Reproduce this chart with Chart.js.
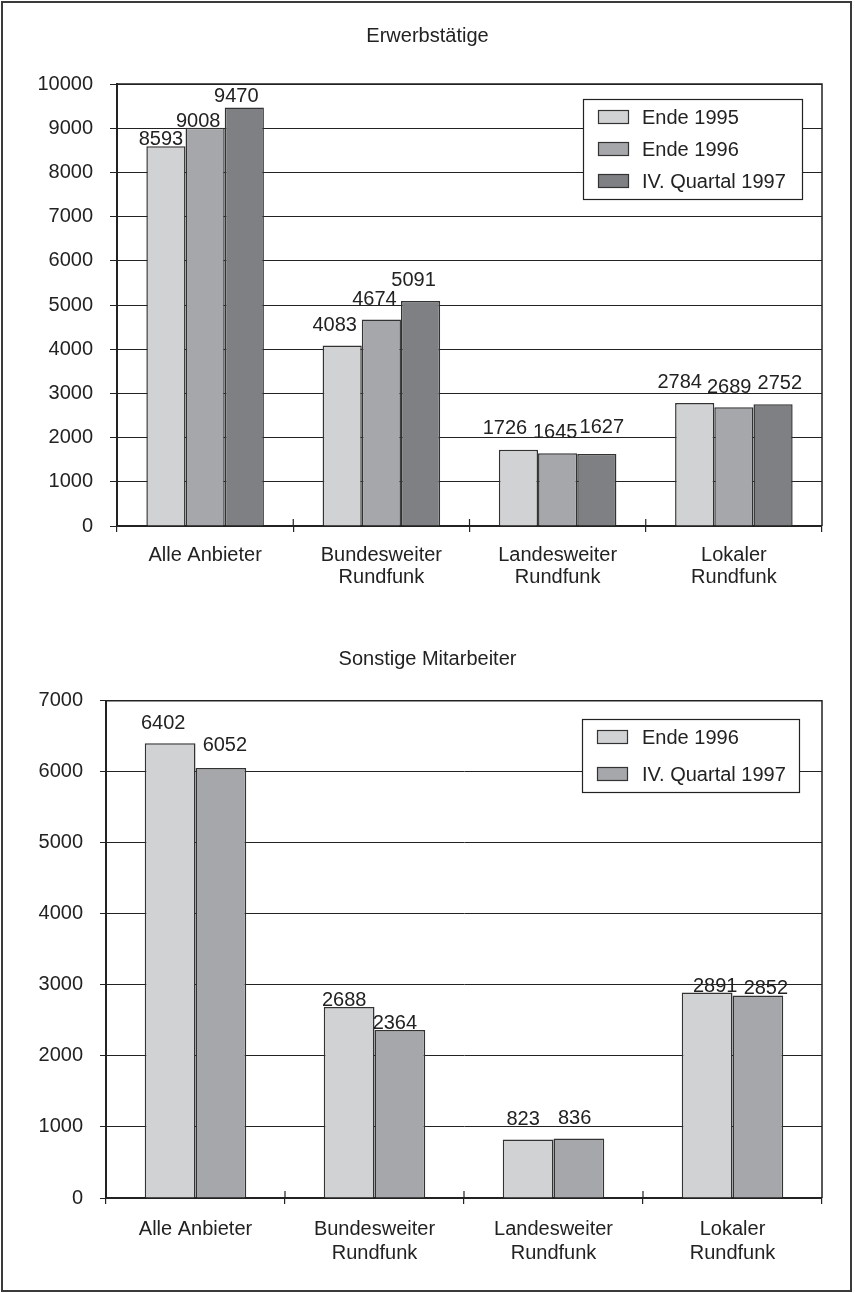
<!DOCTYPE html>
<html>
<head>
<meta charset="utf-8">
<script src="https://cdn.jsdelivr.net/npm/chart.js@4/dist/chart.umd.min.js"></script>
<style>
  html, body { margin: 0; padding: 0; background: #fff; }
  #page { position: relative; width: 855px; height: 1293px; overflow: hidden; background: #fff; }
  #frame { position: absolute; left: 1px; top: 1px; width: 851px; height: 1291px; box-sizing: border-box; border: 2px solid #3a3a3a; }
  canvas { position: absolute; left: 0; }
  #c1 { top: 0; }
  #c2 { top: 630px; }
</style>
</head>
<body>
<div id="page">
  <div id="frame"></div>
  <canvas id="c1" width="855" height="630"></canvas>
  <canvas id="c2" width="855" height="663"></canvas>
</div>
<script>
// Provider groups shown along the x axis of both panels
const categories = [['Alle Anbieter'], ['Bundesweiter', 'Rundfunk'], ['Landesweiter', 'Rundfunk'], ['Lokaler', 'Rundfunk']];

// Panel 1: Erwerbstätige
const erwerbTitle = 'Erwerbstätige';
const erwerbSeries = ['Ende 1995', 'Ende 1996', 'IV. Quartal 1997'];
const erwerb1995 = [8593, 4083, 1726, 2784];
const erwerb1996 = [9008, 4674, 1645, 2689];
const erwerb1997 = [9470, 5091, 1627, 2752];
const erwerbAxis = { min: 0, max: 10000, step: 1000 };

// Panel 2: Sonstige Mitarbeiter
const sonstTitle = 'Sonstige Mitarbeiter';
const sonstSeries = ['Ende 1996', 'IV. Quartal 1997'];
const sonst1996 = [6402, 2688, 823, 2891];
const sonst1997 = [6052, 2364, 836, 2852];
const sonstAxis = { min: 0, max: 7000, step: 1000 };

const INK = '#222';
const FONT = '"Liberation Sans", Arial, Helvetica, sans-serif';
const GREYS = ['#d1d2d4', '#a6a7aa', '#7f8083'];

// Top and right edge of the plot, plus the upper half of the category separators
const plotFrame = {
  id: 'plotFrame',
  afterDraw(chart) {
    const { ctx, chartArea: a } = chart;
    ctx.save();
    ctx.strokeStyle = INK;
    ctx.lineWidth = 1.5;
    ctx.beginPath();
    ctx.moveTo(a.left, a.top);
    ctx.lineTo(a.right, a.top);
    ctx.lineTo(a.right, a.bottom);
    ctx.stroke();
    const xs = chart.scales.x;
    const n = chart.data.labels.length;
    ctx.lineWidth = 1.2;
    ctx.beginPath();
    for (let i = 1; i < n; i++) {
      const px = (xs.getPixelForValue(i - 1) + xs.getPixelForValue(i)) / 2;
      ctx.moveTo(px, a.bottom - 7);
      ctx.lineTo(px, a.bottom);
    }
    ctx.stroke();
    ctx.restore();
  }
};

// Value printed above every bar
const valueLabels = {
  id: 'valueLabels',
  afterDatasetsDraw(chart, args, opts) {
    const ctx = chart.ctx;
    ctx.save();
    ctx.font = opts.size + 'px ' + FONT;
    ctx.fillStyle = INK;
    ctx.textAlign = 'center';
    ctx.textBaseline = 'alphabetic';
    chart.data.datasets.forEach((ds, di) => {
      const meta = chart.getDatasetMeta(di);
      meta.data.forEach((bar, i) => {
        const off = (opts.offsets && opts.offsets[di] && opts.offsets[di][i]) || [0, opts.gap];
        ctx.fillText(String(ds.data[i]), bar.x + off[0], bar.y - off[1]);
      });
    });
    ctx.restore();
  }
};

// Boxed legend inside the upper right of the plot
const boxLegend = {
  id: 'boxLegend',
  afterDraw(chart, args, o) {
    const { ctx, chartArea: a } = chart;
    const x0 = Math.round(a.right - o.right - o.width);
    const y0 = Math.round(a.top + o.top);
    ctx.save();
    ctx.fillStyle = '#fff';
    ctx.fillRect(x0, y0, o.width, o.height);
    ctx.strokeStyle = INK;
    ctx.lineWidth = 1.2;
    ctx.strokeRect(x0 + 0.5, y0 + 0.5, o.width, o.height);
    ctx.font = o.size + 'px ' + FONT;
    ctx.textBaseline = 'middle';
    ctx.textAlign = 'left';
    chart.data.datasets.forEach((ds, i) => {
      const cy = Math.round(y0 + o.firstRow + i * o.rowGap);
      ctx.fillStyle = ds.backgroundColor;
      ctx.fillRect(x0 + o.swatchX, cy - 7, 31, 14);
      ctx.strokeStyle = '#333';
      ctx.lineWidth = 1.2;
      ctx.strokeRect(x0 + o.swatchX + 0.5, cy - 6.5, 30, 13);
      ctx.fillStyle = INK;
      ctx.fillText(ds.label, x0 + o.textX, cy + 1);
    });
    ctx.restore();
  }
};

function panel(canvasId, spec) {
  const datasets = spec.series.map((name, i) => ({
    label: name,
    data: spec.values[i],
    backgroundColor: spec.colors[i],
    borderColor: '#333',
    borderWidth: 1.5,
    borderSkipped: 'start',
    categoryPercentage: spec.catPct,
    barPercentage: 1
  }));
  return new Chart(document.getElementById(canvasId), {
    type: 'bar',
    data: { labels: categories, datasets },
    plugins: [plotFrame, valueLabels, boxLegend],
    options: {
      responsive: false,
      animation: false,
      devicePixelRatio: 1,
      // equal side padding keeps the title centred on the page
      layout: { padding: { top: 0, right: 33, bottom: 0, left: 33 } },
      plugins: {
        legend: { display: false },
        tooltip: { enabled: false },
        title: {
          display: true,
          text: spec.title,
          color: INK,
          font: { family: FONT, size: 20, weight: 'normal', lineHeight: 1.2 },
          padding: spec.titlePad
        },
        valueLabels: { size: 20, gap: 15, offsets: spec.labelOffsets },
        boxLegend: spec.legend
      },
      scales: {
        x: {
          offset: true,
          grid: { display: true, offset: true, drawOnChartArea: false, drawTicks: true, tickLength: 6, color: INK, lineWidth: 1.2 },
          border: { display: true, color: INK, width: 2 },
          ticks: {
            color: INK,
            font: { family: FONT, size: 20, lineHeight: spec.xLine },
            padding: spec.xPad,
            maxRotation: 0,
            autoSkip: false
          },
          afterFit(s) { s.height = spec.xHeight; }
        },
        y: {
          min: spec.axis.min,
          max: spec.axis.max,
          ticks: {
            stepSize: spec.axis.step,
            color: INK,
            font: { family: FONT, size: 20 },
            padding: 17,
            callback: v => String(v)
          },
          grid: { color: INK, lineWidth: 1, tickLength: spec.yTick, drawTicks: true },
          border: { display: true, color: INK, width: 2 },
          afterFit(s) { s.width = spec.yWidth; }
        }
      }
    }
  });
}

panel('c1', {
  title: erwerbTitle,
  series: erwerbSeries,
  values: [erwerb1995, erwerb1996, erwerb1997],
  colors: GREYS,
  axis: erwerbAxis,
  catPct: 0.667,
  titlePad: { top: 24, bottom: 36 },
  xHeight: 104, xPad: 12, xLine: 1.125,
  yWidth: 84, yTick: 7,
  labelOffsets: [
    [[-5, 1], [-7.5, 15], [-13.5, 16], [-15, 14.5]],
    [[-7, 1.3], [-7, 14], [-2.5, 14.8], [-4.7, 14.5]],
    [[-8, 5], [-7, 14.6], [5, 20.6], [6.8, 15.7]]
  ],
  legend: { right: 20, top: 15, width: 219, height: 100, swatchX: 15, textX: 59, firstRow: 18, rowGap: 32, size: 20 }
});

panel('c2', {
  title: sonstTitle,
  series: sonstSeries,
  values: [sonst1996, sonst1997],
  colors: GREYS,
  axis: sonstAxis,
  catPct: 0.567,
  titlePad: { top: 17, bottom: 29.7 },
  xHeight: 95, xPad: 13, xLine: 1.2,
  yWidth: 73, yTick: 6,
  labelOffsets: [
    [[-7, 14], [-5, 1], [-5, 15], [8, 1]],
    [[4, 16.6], [-5, 1], [-4.3, 15], [8, 1]]
  ],
  legend: { right: 23, top: 18, width: 217, height: 73, swatchX: 15, textX: 60, firstRow: 18.3, rowGap: 36.7, size: 20 }
});
</script>
</body>
</html>
